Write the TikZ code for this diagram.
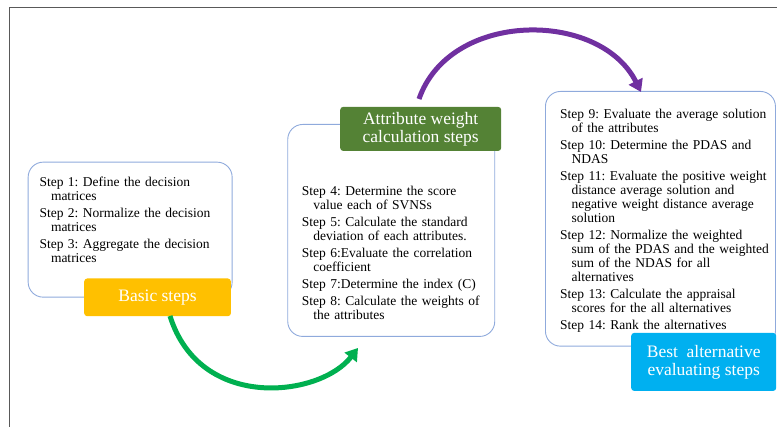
\documentclass[tikz,border=0pt]{standalone}
\usepackage{fontspec}
\setmainfont{Liberation Serif}
\usetikzlibrary{arrows.meta}
\definecolor{boxblue}{HTML}{8FAADC}
\definecolor{orangeL}{HTML}{FFC000}
\definecolor{greenL}{HTML}{548235}
\definecolor{blueL}{HTML}{00B0F0}
\definecolor{purpleA}{HTML}{7030A0}
\definecolor{greenA}{HTML}{00B050}
\definecolor{frameg}{HTML}{595959}
\newcommand\mystep[1]{\hangindent=11.5pt\hangafter=1 #1\par}
\frenchspacing
\begin{document}
\begin{tikzpicture}[x=1pt,y=-1pt,
  stepbox/.style={draw=boxblue, line width=0.9pt, rounded corners=15pt, anchor=north west, inner sep=0},
  steplabel/.style={rounded corners=3pt, text=white, font=\fontsize{17.5}{18}\selectfont, align=center, inner sep=0, anchor=north west},
  txt/.style={anchor=north west, inner sep=0, text width=240pt, font=\fontsize{13.5}{14}\selectfont\frenchspacing, align=left},
  bigarrow/.style={line width=5pt, -{Triangle[length=12pt,width=15pt]}}]
\useasboundingbox (0,0) rectangle (777,427);
\coordinate (fa) at (9,427);
\coordinate (fb) at (9,7);
\coordinate (fc) at (777,7);
\draw[frameg, line width=0.9pt] (fa) -- (fb) -- (fc);
% boxes
\node[stepbox, minimum width=204pt, minimum height=135pt] (b1) at (27.7,161.7) {};
\node[stepbox, minimum width=207pt, minimum height=212pt] (b2) at (287.3,124) {};
\node[stepbox, minimum width=230pt, minimum height=254.7pt] (b3) at (545,91) {};
% texts
\node[txt] (t1) at (39.3,176.5) {\setlength\parskip{3pt}%
\mystep{Step 1: Define the decision\newline matrices}
\mystep{Step 2: Normalize the decision\newline matrices}
\mystep{Step 3: Aggregate the decision\newline matrices}};
\node[txt] (t2) at (301.7,186) {\setlength\parskip{3pt}%
\mystep{Step 4: Determine the score\newline value each of SVNSs}
\mystep{Step 5: Calculate the standard\newline deviation of each attributes.}
\mystep{Step 6:Evaluate the correlation\newline coefficient}
\mystep{Step 7:Determine the index (C)}
\mystep{Step 8: Calculate the weights of\newline the attributes}};
\node[txt] (t3) at (560,108.5) {\setlength\parskip{3pt}%
\mystep{Step 9: Evaluate the average solution\newline of the attributes}
\mystep{Step 10: Determine the PDAS and\newline NDAS}
\mystep{Step 11: Evaluate the positive weight\newline distance average solution and\newline negative weight distance average\newline solution}
\mystep{Step 12: Normalize the weighted\newline sum of the PDAS and the weighted\newline sum of the NDAS for all\newline alternatives}
\mystep{Step 13: Calculate the appraisal\newline scores for the all alternatives}
\mystep{Step 14: Rank the alternatives}};
% labels
\node[steplabel, fill=orangeL, minimum width=146.7pt, minimum height=37.7pt] (l1) at (84,278.3) {Basic steps};
\node[steplabel, fill=greenL, minimum width=161pt, minimum height=44pt] (l2) at (340,106.7) {Attribute weight\\calculation steps};
\node[steplabel, fill=blueL, minimum width=145pt, minimum height=58pt] (l3) at (631,332.7) {Best~ alternative\\evaluating steps};
% arrows
\coordinate (ps) at (419,99);
\coordinate (pe) at (641,92);
\draw[bigarrow, purpleA] (ps) .. controls (450,10) and (600,10) .. (pe);
\coordinate (gs) at (170,316);
\coordinate (ge) at (358,348);
\draw[bigarrow, greenA] (gs) .. controls (200,412) and (320,397) .. (ge);
\end{tikzpicture}
\end{document}
